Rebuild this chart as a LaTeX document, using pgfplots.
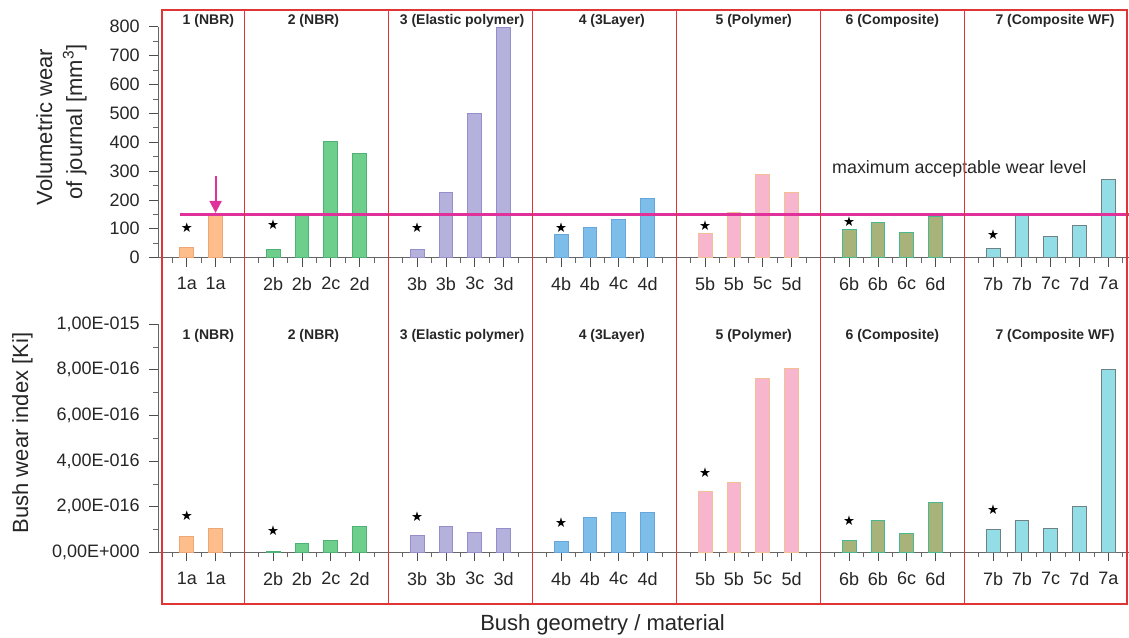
\documentclass[border=0pt]{standalone}
\usepackage{pgfplots}
\pgfplotsset{compat=1.18}
\usepackage{fontspec}
\setmainfont{Liberation Sans}
\newfontfamily\djv{DejaVu Sans}
\usetikzlibrary{arrows.meta}

\definecolor{gAf}{HTML}{FDBE8C}\definecolor{gAe}{HTML}{EDA676}
\definecolor{gBf}{HTML}{6ECF8D}\definecolor{gBe}{HTML}{4DB274}
\definecolor{gCf}{HTML}{B5B1DD}\definecolor{gCe}{HTML}{948ECB}
\definecolor{gDf}{HTML}{7CBDEA}\definecolor{gDe}{HTML}{66A6DA}
\definecolor{gEf}{HTML}{F8B5CE}\definecolor{gEe}{HTML}{F3C096}
\definecolor{gFf}{HTML}{A8B37A}\definecolor{gFe}{HTML}{48B890}
\definecolor{gGf}{HTML}{92DDE6}\definecolor{gGe}{HTML}{6E8286}
\definecolor{mag}{HTML}{E0309A}
\definecolor{frmred}{HTML}{E03535}

\tikzset{grp/.style={anchor=base, font=\bfseries\fontsize{10.5}{12}\selectfont, text=black!85}}
\pgfplotsset{
  common/.style={
    scale only axis, width=728.25pt, xmin=0, xmax=33.72,
    axis lines*=left, clip=false,
    tick align=outside,
    xtick={1,2,4,5,6,7,9,10,11,12,14,15,16,17,19,20,21,22,24,25,26,27,29,30,31,32,33},
    xticklabels={1a,1a,2b,2b,2c,2d,3b,3b,3c,3d,4b,4b,4c,4d,5b,5b,5c,5d,6b,6b,6c,6d,7b,7b,7c,7d,7a},
    minor xtick={0.5,1.5,...,33.5,3,8,13,18,23,28},
    major tick length=6.75pt, minor tick length=3.75pt,
    tick style={color=black!70, line width=0.6pt},
    minor tick style={color=black!60, line width=0.5pt},
    axis line style={black!60, line width=0.6pt},
    ticklabel style={font=\fontsize{13.5}{15}\selectfont, color=black!85},
    xticklabel style={yshift=-4.5pt},
    yticklabel style={xshift=-3.5pt},
  },
  bars/.style={ybar, bar width=0.48, bar shift=0pt, line width=0.7pt, fill=#1f, draw=#1e},
  stars/.style={only marks, mark=text, text mark={\djv\fontsize{10}{10}\selectfont ★}},
}

\begin{document}
\begin{tikzpicture}
\useasboundingbox (0,0) rectangle (846.75pt,477.75pt);

% top axis
\begin{axis}[common, at={(118.5pt,284.5pt)}, anchor=south west,
  height=173.25pt, ymin=0, ymax=800,
  ytick={0,100,...,800}, yticklabels={0,100,200,300,400,500,600,700,800},
  minor ytick={50,150,...,750}]
\addplot[bars=gA] coordinates {(1,35) (2,148)};
\addplot[bars=gB] coordinates {(4,28) (5,150) (6,402) (7,360)};
\addplot[bars=gC] coordinates {(9,28) (10,227) (11,501) (12,797)};
\addplot[bars=gD] coordinates {(14,79) (15,105) (16,131) (17,205)};
\addplot[bars=gE] coordinates {(19,85) (20,155) (21,287) (22,227)};
\addplot[bars=gF] coordinates {(24,96) (25,121) (26,87) (27,142)};
\addplot[bars=gG] coordinates {(29,33) (30,145) (31,75) (32,113) (33,272)};
\addplot[stars] coordinates {(1,104) (4,113) (9,104) (14,104) (19,111) (24,125) (29,79)};
\addplot[mag, line width=2.2pt, sharp plot, no marks] coordinates {(0.76,150) (33.72,150)};
\draw[mag, line width=1.6pt, -{Triangle[width=9pt,length=9pt]}] (axis cs:2,282) -- (axis cs:2,155);
\node[anchor=base west, font=\fontsize{13.4}{15}\selectfont, text=black!85] at (axis cs:23.25,293) {maximum acceptable wear level};
\node[grp] at (axis cs:1.75,807.6) {1 (NBR)};
\node[grp] at (axis cs:5.40,807.6) {2 (NBR)};
\node[grp] at (axis cs:10.56,807.6) {3 (Elastic polymer)};
\node[grp] at (axis cs:15.76,807.6) {4 (3Layer)};
\node[grp] at (axis cs:20.69,807.6) {5 (Polymer)};
\node[grp] at (axis cs:25.5,807.6) {6 (Composite)};
\node[grp] at (axis cs:31.15,807.6) {7 (Composite WF)};
\end{axis}

% bottom axis
\begin{axis}[common, at={(118.5pt,63.5pt)}, anchor=south west,
  height=171.2pt, ymin=0, ymax=10,
  ytick={0,2,...,10},
  yticklabels={{0,00E+000},{2,00E-016},{4,00E-016},{6,00E-016},{8,00E-016},{1,00E-015}},
  minor ytick={1,3,5,7,9}]
\addplot[bars=gA] coordinates {(1,0.71) (2,1.05)};
\addplot[bars=gB] coordinates {(4,0.05) (5,0.39) (6,0.51) (7,1.15)};
\addplot[bars=gC] coordinates {(9,0.73) (10,1.15) (11,0.88) (12,1.05)};
\addplot[bars=gD] coordinates {(14,0.46) (15,1.53) (16,1.73) (17,1.73)};
\addplot[bars=gE] coordinates {(19,2.65) (20,3.07) (21,7.62) (22,8.06)};
\addplot[bars=gF] coordinates {(24,0.51) (25,1.39) (26,0.83) (27,2.17)};
\addplot[bars=gG] coordinates {(29,1.02) (30,1.39) (31,1.05) (32,2.0) (33,8.03)};
\addplot[stars] coordinates {(1,1.59) (4,0.95) (9,1.56) (14,1.30) (19,3.5) (24,1.39) (29,1.88)};
\node[grp] at (axis cs:1.75,9.34) {1 (NBR)};
\node[grp] at (axis cs:5.40,9.34) {2 (NBR)};
\node[grp] at (axis cs:10.56,9.34) {3 (Elastic polymer)};
\node[grp] at (axis cs:15.76,9.34) {4 (3Layer)};
\node[grp] at (axis cs:20.69,9.34) {5 (Polymer)};
\node[grp] at (axis cs:25.5,9.34) {6 (Composite)};
\node[grp] at (axis cs:31.15,9.34) {7 (Composite WF)};
% red group frames spanning both panels
\draw[frmred, line width=1.1pt] (axis cs:0.14,-2.27) rectangle (axis cs:33.65,23.75);
\pgfplotsinvokeforeach{3,8,13,18,23,28}{
  \draw[frmred, line width=1.1pt] (axis cs:#1,-2.27) -- (axis cs:#1,23.75);
}
\end{axis}

% axis titles
\node[rotate=90, anchor=base, font=\fontsize{16.5}{18}\selectfont, text=black!85] at (39pt,382.5pt) {Volumetric wear};
\node[rotate=90, anchor=base, font=\fontsize{16.5}{18}\selectfont, text=black!85] at (61.5pt,386.25pt) {of journal [mm\textsuperscript{3}]};
\node[rotate=90, anchor=base, font=\fontsize{16.5}{18}\selectfont, text=black!85] at (21pt,153pt) {Bush wear index [Ki]};
\node[anchor=base, font=\fontsize{16.5}{18}\selectfont, text=black!85] at (451.9pt,5.25pt) {Bush geometry / material};
\end{tikzpicture}
\end{document}
